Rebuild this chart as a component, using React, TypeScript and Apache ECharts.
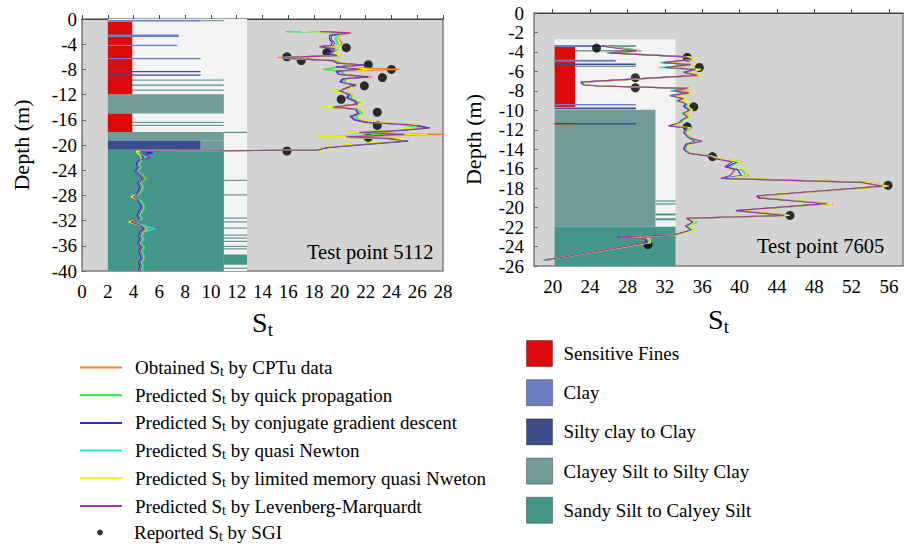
import React, { useEffect, useRef } from "react";
import * as echarts from "echarts";

const FONT = '"Liberation Serif", "Times New Roman", serif';

// ---------- Test point 5112 (left) ----------
const LEFT_DEPTH = [
  -2.0, -2.2, -2.6, -3.2, -3.8, -4.2, -4.4, -4.7, -5.1, -5.5, -5.8, -6.1, -6.3, -6.6, -7.0, -7.3, -7.6, -8.0, -8.3, -8.8,
  -9.2, -9.5, -10.0, -10.5, -11.0, -11.4, -12.0, -12.5, -13.0, -13.5, -14.0, -14.3, -15.0, -15.5, -16.0, -16.4, -16.8, -17.3, -17.7, -18.0,
  -18.3, -18.7, -19.0, -19.4, -19.8, -20.4, -20.8, -21.0,
  -21.3, -21.6, -22.0, -22.4, -23.0, -23.6, -24.2, -24.8, -25.4, -26.0, -26.6, -27.2, -27.8, -28.2, -28.8, -29.4, -30.0, -30.6, -31.2, -31.8,
  -32.2, -32.8, -33.3, -33.8, -34.4, -35.0, -35.6, -36.2, -36.8, -37.4, -38.0, -38.6, -39.2, -39.8, -40.0,
];
const L_OBTAINED = [
  18.8, 20.9, 20.0, 19.9, 20.2, 20.0, 18.8, 20.0, 19.8, 19.5, 20.0, 15.2, 16.0, 19.6, 20.1, 21.5, 20.0, 24.6, 20.0, 20.3,
  22.5, 20.5, 20.3, 21.3, 20.8, 19.6, 21.0, 20.8, 21.4, 21.6, 19.0, 21.5, 21.7, 21.3, 21.5, 22.5, 25.8, 26.6, 24.0, 21.0,
  28.0, 20.0, 24.5, 24.8, 22.0, 18.6, 18.5, 4.4,
  4.5, 4.8, 4.7, 4.6, 4.4, 4.5, 4.3, 4.7, 4.9, 4.5, 4.7, 4.6, 4.4, 3.9, 4.5, 4.7, 4.8, 4.6, 4.5, 4.6,
  3.7, 4.7, 5.0, 4.7, 4.6, 4.7, 4.5, 4.8, 4.6, 4.7, 4.8, 4.6, 4.7, 4.6, 4.7,
];
const L_QP = [
  15.8, 20.3, 19.9, 19.7, 19.9, 19.8, 18.6, 19.9, 19.6, 19.4, 20.1, 15.6, 16.3, 19.8, 20.2, 21.0, 20.1, 18.7, 20.2, 20.4,
  21.5, 20.6, 20.4, 20.8, 20.9, 19.4, 21.0, 20.9, 21.3, 21.7, 18.8, 21.5, 21.8, 21.2, 21.6, 22.8, 25.0, 26.0, 23.6, 20.6,
  24.2, 18.6, 24.8, 24.5, 21.5, 18.8, 18.6, 4.3,
  4.4, 4.7, 4.8, 4.7, 4.5, 4.6, 4.3, 4.8, 5.0, 4.6, 4.8, 4.7, 4.5, 3.9, 4.6, 4.8, 4.9, 4.7, 4.5, 4.7,
  3.7, 4.8, 5.2, 4.8, 4.7, 4.8, 4.6, 4.9, 4.7, 4.8, 4.9, 4.7, 4.8, 4.7, 4.8,
];
const L_CGD = [
  17.5, 20.5, 19.2, 19.2, 19.4, 19.3, 18.5, 19.4, 19.4, 19.0, 19.7, 15.6, 16.4, 19.4, 19.8, 22.0, 19.7, 21.8, 19.7, 19.9,
  22.2, 20.2, 20.0, 21.2, 20.4, 19.9, 20.7, 20.5, 21.1, 21.3, 19.2, 21.2, 21.4, 20.8, 21.1, 22.0, 25.8, 27.0, 24.8, 21.2,
  26.0, 19.5, 23.8, 25.3, 22.8, 19.2, 18.2, 4.6,
  5.5, 4.6, 4.8, 4.4, 4.2, 4.3, 4.1, 4.5, 4.7, 4.3, 4.5, 4.4, 4.2, 4.0, 4.3, 4.5, 4.6, 4.4, 4.3, 4.4,
  3.9, 4.5, 4.8, 4.5, 4.4, 4.5, 4.3, 4.6, 4.4, 4.5, 4.6, 4.4, 4.5, 4.4, 4.5,
];
const L_QN = [
  16.2, 20.4, 19.8, 19.6, 19.8, 19.7, 18.7, 19.8, 19.7, 19.3, 20.0, 15.7, 16.2, 19.7, 20.1, 21.3, 20.0, 20.8, 20.1, 20.3,
  21.8, 20.5, 20.3, 21.0, 20.8, 19.5, 20.9, 20.8, 21.3, 21.6, 19.0, 21.4, 21.7, 21.1, 21.5, 22.6, 25.3, 26.3, 24.0, 20.8,
  25.5, 19.0, 24.5, 25.0, 22.2, 18.7, 18.4, 4.4,
  4.6, 4.7, 5.0, 4.6, 4.4, 4.5, 4.3, 4.7, 4.8, 4.5, 4.7, 4.6, 4.4, 4.0, 4.5, 4.7, 4.8, 4.6, 4.5, 4.6,
  3.8, 4.8, 5.7, 4.8, 4.6, 4.7, 4.5, 4.8, 4.6, 4.7, 4.8, 4.6, 4.7, 4.6, 4.7,
];
const L_LMQN = [
  17.0, 20.6, 20.0, 19.8, 20.0, 19.9, 18.9, 20.0, 19.8, 19.5, 20.2, 15.9, 16.6, 19.9, 20.3, 21.2, 20.2, 22.5, 20.3, 20.5,
  21.2, 20.7, 20.5, 20.7, 21.0, 19.3, 21.1, 21.0, 21.5, 21.8, 18.6, 21.6, 21.9, 21.4, 21.7, 23.0, 26.0, 25.8, 23.3, 20.5,
  26.8, 18.2, 25.0, 24.3, 21.3, 18.6, 18.8, 4.2,
  4.3, 4.5, 4.6, 4.5, 4.3, 4.4, 4.2, 4.6, 4.8, 4.4, 4.6, 4.5, 4.3, 3.8, 4.4, 4.6, 4.7, 4.5, 4.4, 4.5,
  3.6, 4.6, 5.0, 4.6, 4.5, 4.6, 4.4, 4.7, 4.5, 4.6, 4.7, 4.5, 4.6, 4.5, 4.6,
];
const L_LM = [
  18.5, 20.8, 19.4, 19.3, 19.6, 19.5, 18.4, 19.6, 19.5, 19.2, 19.8, 15.8, 16.5, 19.5, 19.9, 21.8, 19.8, 21.5, 19.8, 20.0,
  22.0, 20.3, 20.1, 21.0, 20.5, 20.0, 20.8, 20.6, 21.2, 21.4, 19.5, 21.3, 21.5, 20.9, 21.2, 22.2, 25.5, 26.8, 24.5, 21.5,
  25.0, 20.5, 24.0, 25.0, 22.5, 19.0, 18.3, 4.5,
  4.6, 4.9, 5.3, 4.5, 4.3, 4.4, 4.2, 4.6, 4.8, 4.4, 4.6, 4.5, 4.3, 4.0, 4.4, 4.6, 4.7, 4.5, 4.4, 4.5,
  3.8, 4.6, 4.9, 4.6, 4.5, 4.6, 4.4, 4.7, 4.5, 4.6, 4.7, 4.5, 4.6, 4.5, 4.6,
];
const L_SGI = [
  [15.9, -6.0], [17.0, -6.6], [19.0, -5.3], [20.5, -4.55], [22.2, -7.25], [24.0, -8.0], [23.3, -9.3],
  [21.9, -10.6], [20.1, -12.75], [22.9, -14.8], [22.9, -16.9], [22.2, -18.8], [15.9, -20.95],
];

// ---------- Test point 7605 (right) ----------
const RIGHT_DEPTH = [
  -3.4, -3.7, -3.9, -4.1, -4.5, -4.8, -5.1, -5.3, -5.6, -5.8, -6.1, -6.4, -7.1, -7.4, -7.5, -7.75, -8.0, -8.2, -8.5, -8.8,
  -9.0, -9.3, -9.6, -10.0, -10.3, -10.7, -11.0, -11.3, -11.6, -11.8, -12.3, -12.8, -13.2, -13.5, -14.0, -14.4, -14.7, -15.0, -15.3, -15.8,
  -16.1, -16.7, -17.0, -17.4, -17.8, -18.8, -19.0, -19.6, -20.3, -20.8, -21.1, -21.5, -21.9, -22.3, -22.8, -23.0, -23.2, -23.6, -25.4,
];
const R_OBTAINED = [
  25.8, 28.0, 29.3, 26.4, 34.6, 35.2, 32.2, 35.2, 32.4, 35.8, 34.4, 35.9, 23.2, 23.5, 25.3, 34.7, 33.4, 34.9, 33.0, 34.3,
  33.7, 34.5, 34.3, 34.9, 34.3, 34.7, 34.1, 33.8, 32.7, 34.7, 34.3, 34.8, 35.5, 34.5, 34.3, 34.8, 37.0, 38.0, 40.3, 39.0,
  40.2, 41.0, 38.5, 53.8, 56.0, 42.3, 42.5, 50.0, 40.0, 45.4, 34.6, 35.3, 34.5, 35.1, 33.4, 27.3, 30.3, 30.4, 19.0,
];
const R_QP = [
  25.6, 28.5, 29.5, 25.8, 34.5, 35.0, 31.5, 35.0, 31.4, 35.6, 34.2, 35.7, 23.1, 23.4, 25.1, 34.5, 32.6, 34.8, 32.5, 34.2,
  33.2, 34.4, 34.2, 34.8, 33.8, 34.6, 33.9, 33.6, 32.6, 34.6, 34.1, 34.6, 35.2, 34.3, 34.2, 34.6, 36.9, 37.8, 40.0, 38.8,
  40.4, 40.6, 38.4, 53.5, 55.6, 42.0, 42.2, 49.6, 39.8, 45.0, 34.4, 35.5, 34.3, 35.2, 33.2, 27.1, 30.1, 30.3, 19.1,
];
const R_CGD = [
  25.4, 27.8, 29.1, 26.2, 34.4, 34.9, 32.0, 34.9, 32.2, 35.4, 34.1, 35.6, 23.0, 23.4, 25.0, 34.6, 32.8, 34.7, 32.7, 34.1,
  33.5, 34.3, 34.1, 34.7, 34.1, 34.5, 33.9, 33.7, 32.5, 34.5, 34.1, 34.6, 35.3, 34.3, 34.1, 34.6, 36.8, 37.7, 39.8, 38.6,
  39.8, 40.2, 38.2, 53.3, 55.5, 42.0, 42.1, 49.5, 39.7, 45.1, 34.4, 35.1, 34.4, 34.9, 33.1, 26.9, 29.9, 30.1, 19.1,
];
const R_QN = [
  25.5, 28.2, 29.4, 25.9, 34.5, 35.1, 31.7, 35.1, 31.6, 35.5, 34.2, 35.8, 23.1, 23.5, 25.1, 34.6, 32.7, 34.8, 32.6, 34.2,
  33.3, 34.4, 34.3, 34.8, 33.9, 34.6, 34.0, 33.7, 32.6, 34.6, 34.2, 34.7, 35.4, 34.4, 34.2, 34.7, 36.9, 37.9, 40.1, 38.9,
  40.3, 40.8, 38.5, 53.6, 55.7, 42.1, 42.3, 49.7, 39.9, 45.2, 34.5, 35.4, 34.4, 35.0, 33.3, 27.2, 30.2, 30.3, 19.0,
];
const R_LMQN = [
  25.7, 27.8, 29.2, 26.5, 34.7, 35.3, 32.4, 35.3, 32.6, 35.9, 34.6, 36.0, 23.3, 23.6, 25.4, 34.8, 33.2, 35.0, 32.9, 34.4,
  33.6, 34.6, 34.5, 35.0, 34.2, 34.8, 34.2, 33.9, 32.8, 34.8, 34.4, 34.9, 35.6, 34.6, 34.4, 34.9, 37.0, 38.1, 40.2, 39.2,
  40.6, 40.8, 38.7, 53.7, 55.8, 42.2, 42.4, 49.9, 40.1, 45.3, 34.7, 35.2, 34.6, 35.2, 33.5, 27.4, 30.4, 30.5, 19.2,
];
const R_LM = [
  25.3, 27.5, 29.0, 26.0, 34.3, 34.8, 31.8, 34.8, 32.0, 35.3, 34.0, 35.5, 23.0, 23.3, 25.0, 34.4, 33.0, 34.6, 32.6, 34.0,
  33.4, 34.2, 34.0, 34.6, 34.0, 34.4, 33.8, 33.5, 32.4, 34.4, 34.0, 34.5, 36.0, 34.2, 34.0, 34.5, 36.8, 37.5, 39.2, 38.4,
  39.5, 39.0, 38.0, 53.0, 55.3, 41.8, 42.0, 49.3, 39.6, 44.8, 34.3, 35.0, 34.2, 34.8, 33.0, 27.0, 30.0, 30.2, 19.2,
];
const R_SGI = [
  [24.7, -3.6], [34.4, -4.56], [35.7, -5.6], [28.85, -6.65], [28.85, -7.68], [35.1, -9.64],
  [34.4, -11.7], [37.1, -14.75], [55.9, -17.7], [45.4, -20.8], [30.2, -23.8],
];
const RIGHT_X_TICKS = [20, 24, 28, 32, 36, 40, 44, 48, 52, 56];

// ---------- Soil behaviour columns: [St from, St to, depth top, depth bottom] ----------
const L_COLUMN = [[2, 12.8, 0, -40]];
const L_SENSITIVE = [[2, 3.9, -0.4, -11.95], [2, 3.9, -15.0, -17.95]];
const L_CLAY = [[2, 9.2, -0.15, -0.4], [2, 7.5, -2.45, -2.85], [2, 7.4, -4.1, -4.3], [2, 9.2, -6.2, -6.4]];
const L_SILTY_CLAY = [[2, 9.2, -8.25, -8.45], [2, 9.2, -8.8, -9.0], [2, 9.2, -19.3, -20.75]];
const L_CLAYEY_SILT = [
  [2, 11, -11.95, -15.0], [2, 11, -17.95, -19.3], [9.2, 11, -19.3, -20.8], [2, 11, -9.6, -9.8], [2, 11, -11.2, -11.4],
  [2, 11, -16.3, -16.5], [2, 11, -16.8, -17.0], [9.2, 11, -0.15, -0.35], [11, 12.8, -25.5, -25.7], [11, 12.8, -27.8, -28.0],
  [11, 12.8, -31.5, -31.7], [11, 12.8, -32.1, -32.3], [11, 12.8, -33.1, -33.3], [11, 12.8, -34.2, -34.4],
  [11, 12.8, -34.7, -34.9], [11, 12.8, -35.2, -35.4], [11, 12.8, -36.0, -36.2], [11, 12.8, -36.4, -36.6], [11, 12.8, -39.5, -39.7],
];
const L_SANDY_SILT = [[2, 11, -20.8, -40], [11, 12.8, -37.4, -39.0], [2, 11, -10.4, -10.6], [11, 12.8, -17.9, -18.1]];

const R_COLUMN = [[20.2, 33.15, -2.7, -26]];
const R_SENSITIVE = [[20.2, 22.4, -3.45, -9.65], [20.2, 22.4, -11.3, -11.45]];
const R_CLAY = [[20.2, 26.75, -3.3, -3.5], [20.2, 26.75, -4.8, -5.0], [20.2, 28.9, -9.35, -9.5]];
const R_SILTY_CLAY = [[20.2, 28.9, -5.2, -5.35], [20.2, 28.9, -9.7, -9.9], [22.4, 28.9, -11.3, -11.45]];
const R_CLAYEY_SILT = [
  [26.75, 28.9, -3.3, -3.5], [20.2, 28.9, -3.8, -3.95], [20.2, 28.9, -5.4, -5.55], [20.2, 31.0, -9.95, -21.96],
  [31.0, 33.15, -19.25, -19.4], [31.0, 33.15, -19.55, -19.7],
];
const R_SANDY_SILT = [[20.2, 33.15, -21.96, -26], [31.0, 33.15, -20.6, -20.8], [31.0, 33.15, -21.1, -21.3]];

const METHODS = [
  "Obtained St by CPTu data",
  "Predicted St by quick propagation",
  "Predicted St by conjugate gradient descent",
  "Predicted St by quasi Newton",
  "Predicted St by limited memory quasi Nweton",
  "Predicted St by Levenberg-Marquardt",
];
const METHOD_COLORS = ["#ff7f27", "#2ee62e", "#2b2bd9", "#22e8f0", "#f2f20a", "#a03c9c"];
const SGI_NAME = "Reported St by SGI";
const SOILS = [
  "Sensitive Fines",
  "Clay",
  "Silty clay to Clay",
  "Clayey Silt to Silty Clay",
  "Sandy Silt to Calyey Silt",
];
const SOIL_COLORS = ["#dc0a0a", "#6b80c4", "#3c4d8e", "#6f9b99", "#44958a"];

const stFormatter = (n: string) => n.replace(" St ", " S{sub|t} ");

function rectRenderer(color: string) {
  return (params: any, api: any) => {
    const a = api.coord([api.value(0), api.value(2)]);
    const b = api.coord([api.value(1), api.value(3)]);
    return {
      type: "rect",
      shape: { x: a[0], y: a[1], width: b[0] - a[0], height: Math.max(b[1] - a[1], 1.2) },
      style: { fill: color },
    };
  };
}

function soilSeries(name: string, color: string, data: number[][], idx: number) {
  return {
    type: "custom",
    name,
    xAxisIndex: idx,
    yAxisIndex: idx,
    silent: true,
    clip: true,
    itemStyle: { color },
    encode: { x: [0, 1], y: [2, 3] },
    renderItem: rectRenderer(color),
    data,
  };
}

export default function App() {
  const ref = useRef<HTMLDivElement>(null);
  useEffect(() => {
    if (!ref.current) return;
    const chart = echarts.init(ref.current, undefined, { renderer: "svg" });

    const leftVals = [L_OBTAINED, L_QP, L_CGD, L_QN, L_LMQN, L_LM];
    const rightVals = [R_OBTAINED, R_QP, R_CGD, R_QN, R_LMQN, R_LM];

    const series: any[] = [];
    const columns = [
      [L_COLUMN, L_SENSITIVE, L_CLAY, L_SILTY_CLAY, L_CLAYEY_SILT, L_SANDY_SILT],
      [R_COLUMN, R_SENSITIVE, R_CLAY, R_SILTY_CLAY, R_CLAYEY_SILT, R_SANDY_SILT],
    ];
    columns.forEach((c, idx) => {
      series.push(soilSeries("column", "#f3f3f3", c[0], idx));
      series.push(soilSeries(SOILS[3], SOIL_COLORS[3], c[4], idx));
      series.push(soilSeries(SOILS[4], SOIL_COLORS[4], c[5], idx));
      series.push(soilSeries(SOILS[0], SOIL_COLORS[0], c[1], idx));
      series.push(soilSeries(SOILS[1], SOIL_COLORS[1], c[2], idx));
      series.push(soilSeries(SOILS[2], SOIL_COLORS[2], c[3], idx));
    });
    [
      [LEFT_DEPTH, leftVals],
      [RIGHT_DEPTH, rightVals],
    ].forEach(([depth, vals]: any, idx) => {
      METHODS.forEach((m, k) => {
        series.push({
          type: "line",
          name: m,
          xAxisIndex: idx,
          yAxisIndex: idx,
          symbol: "none",
          clip: true,
          color: METHOD_COLORS[k],
          lineStyle: { width: 1.2, color: METHOD_COLORS[k] },
          data: depth.map((d: number, i: number) => [vals[k][i], d]),
        });
      });
    });
    [L_SGI, R_SGI].forEach((pts, idx) => {
      series.push({
        type: "scatter",
        name: SGI_NAME,
        xAxisIndex: idx,
        yAxisIndex: idx,
        symbolSize: 9,
        itemStyle: { color: "#000" },
        data: pts,
      });
    });

    const axisText = { fontFamily: FONT, fontSize: 19, color: "#000" };
    const legendText = {
      fontFamily: FONT,
      fontSize: 19,
      color: "#000",
      padding: [0, 0, 0, 8],
      rich: { sub: { fontFamily: FONT, fontSize: 14, color: "#000", padding: [8, 0, 0, 0] } },
    };
    const stName = "{s|S}{t|t}";
    const stNameStyle = {
      color: "#000",
      rich: {
        s: { fontFamily: FONT, fontSize: 28, color: "#000" },
        t: { fontFamily: FONT, fontSize: 19, color: "#000", padding: [14, 0, 0, 0] },
      },
    };
    const xBase = (gridIndex: number) => ({
      gridIndex,
      type: "value",
      axisLine: { show: true, lineStyle: { color: "#444", width: 1 } },
      axisTick: { show: true, inside: true, length: 4, lineStyle: { color: "#444" } },
      splitLine: { show: false },
      name: stName,
      nameLocation: "middle",
      nameTextStyle: stNameStyle,
    });
    const yBase = (gridIndex: number) => ({
      gridIndex,
      type: "value",
      axisLine: { show: true, lineStyle: { color: "#888", width: 1 } },
      axisTick: { show: true, inside: true, length: 4, lineStyle: { color: "#666" } },
      splitLine: { show: false },
      name: "Depth (m)",
      nameLocation: "middle",
      nameTextStyle: { fontFamily: FONT, fontSize: 22, color: "#000" },
    });

    chart.setOption({
      animation: false,
      backgroundColor: "#fff",
      grid: [
        { left: 82, top: 19, width: 361, height: 252, show: true, backgroundColor: "#d3d3d3", borderColor: "#7f7f7f", borderWidth: 1.5 },
        { left: 534, top: 13, width: 369, height: 253, show: true, backgroundColor: "#d3d3d3", borderColor: "#7f7f7f", borderWidth: 1.5 },
      ],
      xAxis: [
        { ...xBase(0), min: 0, max: 28, interval: 2, nameGap: 35, axisLabel: { ...axisText, margin: 11 } },
        {
          ...xBase(1),
          min: 18,
          max: 57.5,
          nameGap: 37,
          axisLabel: { ...axisText, margin: 11, customValues: RIGHT_X_TICKS },
          axisTick: { show: true, inside: true, length: 4, lineStyle: { color: "#444" }, customValues: RIGHT_X_TICKS },
        },
      ],
      yAxis: [
        { ...yBase(0), min: -40, max: 0, interval: 4, nameGap: 50, axisLabel: { ...axisText, margin: 5 } },
        { ...yBase(1), min: -26, max: 0, interval: 2, nameGap: 50, axisLabel: { ...axisText, margin: 10 } },
      ],
      legend: [
        {
          orient: "vertical",
          left: 75,
          top: 353,
          itemWidth: 42,
          itemHeight: 2,
          icon: "rect",
          itemGap: 7.2,
          data: METHODS,
          formatter: stFormatter,
          textStyle: legendText,
          selectedMode: false,
        },
        {
          orient: "vertical",
          left: 92,
          top: 518,
          itemWidth: 42,
          itemHeight: 6,
          icon: "circle",
          data: [SGI_NAME],
          formatter: stFormatter,
          textStyle: legendText,
          selectedMode: false,
        },
        {
          orient: "vertical",
          left: 521,
          top: 335,
          itemWidth: 26,
          itemHeight: 26,
          itemGap: 12.2,
          icon: "rect",
          data: SOILS.map((s, i) => ({
            name: s,
            itemStyle: { color: SOIL_COLORS[i], borderColor: "rgba(0,0,0,0.35)", borderWidth: 1 },
          })),
          textStyle: { fontFamily: FONT, fontSize: 19, color: "#000", padding: [0, 0, 0, 6] },
          selectedMode: false,
        },
      ],
      graphic: [
        { type: "text", left: 307, top: 241, style: { text: "Test point 5112", fontFamily: FONT, fontSize: 20.5, fill: "#000" } },
        { type: "text", left: 757, top: 235, style: { text: "Test point 7605", fontFamily: FONT, fontSize: 20.5, fill: "#000" } },
      ],
      series,
    });
    return () => chart.dispose();
  }, []);
  return (
    <div
      ref={ref}
      style={{ position: "fixed", left: 0, top: 0, width: 905, height: 546, background: "#fff" }}
    />
  );
}
